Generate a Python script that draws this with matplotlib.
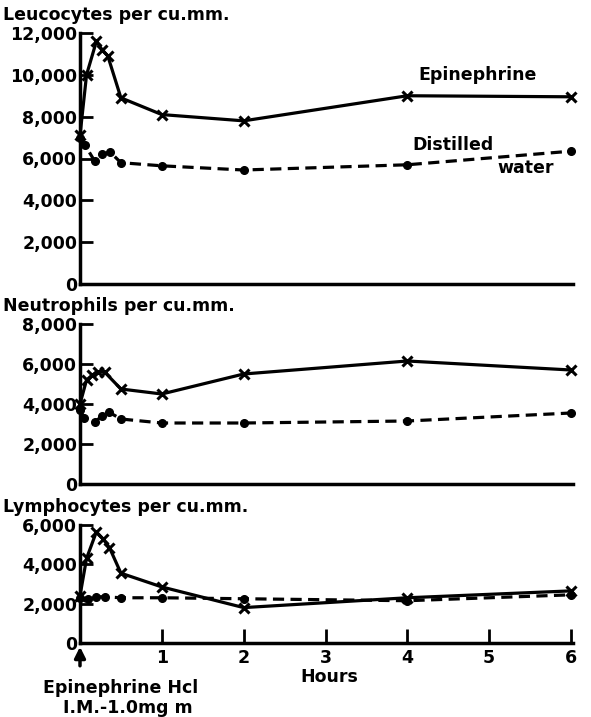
import numpy as np
import matplotlib.pyplot as plt

plt.rcParams['font.family'] = ['DejaVu Sans']
plt.rcParams['font.weight'] = 'bold'

# hours after injection
hrs_epi_leu = [0, 0.08, 0.2, 0.27, 0.34, 0.5, 1, 2, 4, 6]
leu_epi = [7100, 10000, 11600, 11200, 10900, 8900, 8100, 7800, 9000, 8950]
hrs_dw_leu = [0, 0.06, 0.18, 0.27, 0.37, 0.5, 1, 2, 4, 6]
leu_dw = [7000, 6650, 5870, 6200, 6300, 5800, 5650, 5450, 5700, 6350]

hrs_epi_neu = [0, 0.08, 0.15, 0.22, 0.3, 0.5, 1, 2, 4, 6]
neu_epi = [4000, 5200, 5450, 5600, 5600, 4750, 4500, 5500, 6150, 5700]
hrs_dw_neu = [0, 0.05, 0.18, 0.27, 0.35, 0.5, 1, 2, 4, 6]
neu_dw = [3700, 3300, 3100, 3400, 3600, 3250, 3050, 3050, 3150, 3550]

hrs_epi_lym = [0, 0.08, 0.2, 0.28, 0.36, 0.5, 1, 2, 4, 6]
lym_epi = [2400, 4300, 5650, 5300, 4850, 3550, 2850, 1800, 2300, 2650]
hrs_dw_lym = [0, 0.1, 0.2, 0.3, 0.5, 1, 2, 4, 6]
lym_dw = [2300, 2250, 2350, 2350, 2300, 2300, 2250, 2150, 2450]

titles = ['Leucocytes per cu.mm.', 'Neutrophils per cu.mm.', 'Lymphocytes per cu.mm.']
ymax = [12000, 8000, 6000]

W, H = 591, 717
fig = plt.figure(figsize=(W / 100, H / 100), dpi=100)

# axes boxes in pixels: (top, bottom)
boxes = [(33, 284), (324, 484), (525, 643)]
left, right = 80, 571
panels = [(hrs_epi_leu, leu_epi, hrs_dw_leu, leu_dw),
          (hrs_epi_neu, neu_epi, hrs_dw_neu, neu_dw),
          (hrs_epi_lym, lym_epi, hrs_dw_lym, lym_dw)]

axes = []
for i, (top, bot) in enumerate(boxes):
    ax = fig.add_axes([left / W, 1 - bot / H, (right - left) / W, (bot - top) / H])
    xe, ye, xd, yd = panels[i]
    ax.plot(xe, ye, color='black', lw=2.3, marker='x', ms=7, mew=2.2, clip_on=False)
    ax.plot(xd, yd, color='black', lw=2.3, ls=(0, (3.5, 2)), marker='o', ms=5.5, clip_on=False)
    ax.set_xlim(0, 6)
    ax.set_ylim(0, ymax[i])
    yt = np.arange(0, ymax[i] + 1, 2000)
    ax.set_yticks(yt)
    ax.set_yticklabels(['0' if v == 0 else f'{v:,}' for v in yt], fontsize=12.5, fontweight='bold')
    ax.tick_params(axis='y', direction='in', length=9, width=2, pad=2)
    for s in ['top', 'right']:
        ax.spines[s].set_visible(False)
    for s in ['left', 'bottom']:
        ax.spines[s].set_linewidth(2.5)
    ax.spines['bottom'].set_bounds(0, 6.03)
    if i < 2:
        ax.set_xticks([])
    else:
        ax.set_xticks([1, 2, 3, 4, 5, 6])
        ax.set_xticklabels(['1', '2', '3', '4', '5', '6'], fontsize=12.5, fontweight='bold')
        ax.tick_params(axis='x', direction='in', length=10, width=2, pad=4)
    fig.text(3 / W, 1 - (top - 18) / H, titles[i], fontsize=12.5, fontweight='bold',
             ha='left', va='center')
    axes.append(ax)

ax0 = axes[0]
ax0.text(4.13, 10000, 'Epinephrine', fontsize=12.5, fontweight='bold', ha='left', va='center')
ax0.text(4.06, 6650, 'Distilled', fontsize=12.5, fontweight='bold', ha='left', va='center')
ax0.text(5.1, 5550, 'water', fontsize=12.5, fontweight='bold', ha='left', va='center')

ax2 = axes[2]
ax2.annotate('', xy=(0, -50), xytext=(0, -1300), annotation_clip=False,
             arrowprops=dict(arrowstyle='-|>', color='black', lw=2.5, mutation_scale=16))
fig.text(329 / W, 1 - 677 / H, 'Hours', fontsize=12.5, fontweight='bold', ha='center', va='center')
fig.text(121 / W, 1 - 688 / H, 'Epinephrine Hcl', fontsize=12.5, fontweight='bold',
         ha='center', va='center')
fig.text(128 / W, 1 - 708 / H, 'I.M.-1.0mg m', fontsize=12.5, fontweight='bold',
         ha='center', va='center')

fig.savefig('out.png', dpi=100, facecolor='white')
